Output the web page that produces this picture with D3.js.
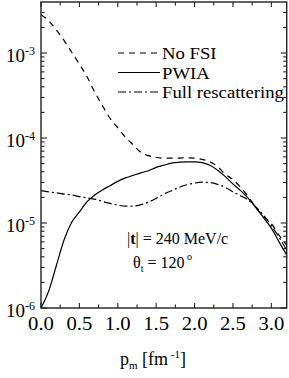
<!DOCTYPE html>
<html>
<head>
<meta charset="utf-8">
<script src="https://cdn.jsdelivr.net/npm/d3@7"></script>
<style>
  body { margin: 0; background: #fff; }
  svg { display: block; }
  text { font-family: "Liberation Serif", "Times New Roman", "DejaVu Serif", serif; }
</style>
</head>
<body>
<script>
// momentum grid, fm^-1
const pm = [0.0, 0.1, 0.2, 0.3, 0.4, 0.5, 0.6, 0.7, 0.8, 0.9, 1.0, 1.1, 1.2, 1.3, 1.4, 1.5, 1.6,
  1.7, 1.8, 1.9, 2.0, 2.1, 2.2, 2.3, 2.4, 2.5, 2.6, 2.7, 2.8, 2.9, 3.0, 3.1, 3.2];

const noFsi = [2.82e-3, 2.40e-3, 1.86e-3, 1.41e-3, 1.02e-3, 7.4e-4, 5.25e-4, 3.47e-4, 2.40e-4,
  1.70e-4, 1.32e-4, 1.02e-4, 8.3e-5, 6.8e-5, 6.2e-5, 5.9e-5, 5.8e-5, 5.8e-5, 5.8e-5, 5.85e-5,
  5.8e-5, 5.6e-5, 5.25e-5, 4.6e-5, 3.75e-5, 3.24e-5, 2.63e-5, 2.04e-5, 1.51e-5, 1.20e-5,
  9.8e-6, 7.2e-6, 5.5e-6];

const pwia = [1.0e-6, 1.58e-6, 3.16e-6, 6.3e-6, 1.02e-5, 1.35e-5, 1.78e-5, 2.14e-5, 2.45e-5,
  2.75e-5, 3.09e-5, 3.39e-5, 3.63e-5, 3.89e-5, 4.12e-5, 4.52e-5, 4.79e-5, 5.07e-5, 5.19e-5,
  5.25e-5, 5.25e-5, 5.13e-5, 4.79e-5, 4.17e-5, 3.51e-5, 2.88e-5, 2.40e-5, 1.95e-5, 1.51e-5,
  1.15e-5, 8.7e-6, 6.0e-6, 4.2e-6];

const fullResc = [2.40e-5, 2.32e-5, 2.26e-5, 2.19e-5, 2.14e-5, 2.04e-5, 1.97e-5, 1.91e-5, 1.80e-5,
  1.70e-5, 1.62e-5, 1.58e-5, 1.58e-5, 1.64e-5, 1.76e-5, 1.95e-5, 2.19e-5, 2.40e-5, 2.63e-5,
  2.82e-5, 2.95e-5, 3.02e-5, 2.99e-5, 2.85e-5, 2.63e-5, 2.32e-5, 2.09e-5, 1.86e-5, 1.55e-5,
  1.23e-5, 9.3e-6, 6.8e-6, 4.8e-6];

const seriesNames = ["No FSI", "PWIA", "Full rescattering"];
const xTickVals = [0.0, 0.5, 1.0, 1.5, 2.0, 2.5, 3.0];
const yTickExps = [-6, -5, -4, -3];

const W = 289, H = 378;
const x0 = 41, x1 = 286.7, y0 = 308, y1 = 2;

const dashes = {
  "No FSI": "6,5",
  "PWIA": null,
  "Full rescattering": "8,3,2,3"
};

const svg = d3.select("body").append("svg")
  .attr("width", W).attr("height", H);

const x = d3.scaleLinear().domain([0, 3.2]).range([x0, x1]);
const y = d3.scaleLog().domain([1e-6, Math.pow(10, -2.4)]).range([y0, y1]);

// stretched text helper (the original glyphs are a bit wider than Times)
function txt(g, s, px, py, opt = {}) {
  const o = Object.assign({ size: 18, sx: 1, anchor: "start" }, opt);
  return g.append("text")
    .attr("transform", `translate(${px},${py}) scale(${o.sx},1)`)
    .attr("text-anchor", o.anchor)
    .attr("font-size", o.size)
    .attr("fill", "#000")
    .text(s);
}

svg.append("clipPath").attr("id", "clip")
  .append("rect").attr("x", x0).attr("y", y1).attr("width", x1 - x0).attr("height", y0 - y1);

// curves
const data = [noFsi, pwia, fullResc];
const line = d3.line()
  .x((d, i) => x(pm[i]))
  .y(d => y(d))
  .curve(d3.curveMonotoneX);

data.forEach((vals, k) => {
  svg.append("path")
    .attr("clip-path", "url(#clip)")
    .attr("d", line(vals))
    .attr("fill", "none")
    .attr("stroke", "#000")
    .attr("stroke-width", 1.2)
    .attr("stroke-dasharray", dashes[seriesNames[k]]);
});

// frame
svg.append("rect")
  .attr("x", x0).attr("y", y1).attr("width", x1 - x0).attr("height", y0 - y1)
  .attr("fill", "none").attr("stroke", "#222").attr("stroke-width", 1.4);

// ticks, all pointing inwards
const ticks = svg.append("g").attr("stroke", "#222").attr("stroke-width", 1.1);
const xMinor = d3.range(0.25, 3.2, 0.5);
xTickVals.concat(xMinor).forEach(v => {
  const len = xTickVals.includes(v) ? 5 : 3.5;
  ticks.append("line").attr("x1", x(v)).attr("x2", x(v)).attr("y1", y0).attr("y2", y0 - len);
  ticks.append("line").attr("x1", x(v)).attr("x2", x(v)).attr("y1", y1).attr("y2", y1 + len);
});

const yMinor = [];
for (let e = -6; e <= -3; e++) for (let m = 2; m <= 9; m++) {
  const v = m * Math.pow(10, e);
  if (v <= y.domain()[1]) yMinor.push(v);
}
yTickExps.map(e => Math.pow(10, e)).forEach(v => {
  ticks.append("line").attr("x1", x0).attr("x2", x0 + 6).attr("y1", y(v)).attr("y2", y(v));
  ticks.append("line").attr("x1", x1).attr("x2", x1 - 6).attr("y1", y(v)).attr("y2", y(v));
});
yMinor.forEach(v => {
  ticks.append("line").attr("x1", x0).attr("x2", x0 + 3.5).attr("y1", y(v)).attr("y2", y(v));
  ticks.append("line").attr("x1", x1).attr("x2", x1 - 3.5).attr("y1", y(v)).attr("y2", y(v));
});

// tick labels
xTickVals.forEach(v => {
  txt(svg, d3.format(".1f")(v), x(v), 330, { size: 18, sx: 1.15, anchor: "middle" });
});

yTickExps.forEach(e => {
  const t = svg.append("text")
    .attr("x", 35).attr("y", y(Math.pow(10, e)) + 9)
    .attr("text-anchor", "end")
    .attr("font-size", 19);
  t.append("tspan").text("10");
  t.append("tspan").attr("font-size", 12).attr("dy", -7).text("-" + (-e));
});

// x label
const xl = svg.append("text").attr("x", 120).attr("y", 365).attr("font-size", 18);
xl.append("tspan").text("p");
xl.append("tspan").attr("font-size", 11).attr("dy", 4).text("m");
xl.append("tspan").attr("dy", -4).text(" [fm");
xl.append("tspan").attr("font-size", 11).attr("dy", -7).text(" -1");
xl.append("tspan").attr("dy", 7).text("]");

// legend
const leg = svg.append("g");
seriesNames.forEach((name, i) => {
  const ly = 53 + i * 19.5;
  leg.append("line")
    .attr("x1", 118).attr("x2", 160).attr("y1", ly).attr("y2", ly)
    .attr("stroke", "#000").attr("stroke-width", 1.2)
    .attr("stroke-dasharray", dashes[name]);
  txt(leg, name, 162, ly + 6, { size: 17, sx: 1.1 });
});

// annotations
const a1 = svg.append("text")
  .attr("x", 127).attr("y", 244)
  .attr("font-size", 16);
a1.append("tspan").text("|");
a1.append("tspan").attr("font-weight", "bold").text("t");
a1.append("tspan").text("| = 240 MeV/c");

const a2 = svg.append("text")
  .attr("x", 133).attr("y", 268)
  .attr("font-size", 16);
a2.append("tspan").text("θ");
a2.append("tspan").attr("font-size", 10).attr("dy", 4).text("t");
a2.append("tspan").attr("dy", -4).text(" = 120");
a2.append("tspan").attr("font-size", 10).attr("dy", -8).text(" o");
</script>
</body>
</html>
